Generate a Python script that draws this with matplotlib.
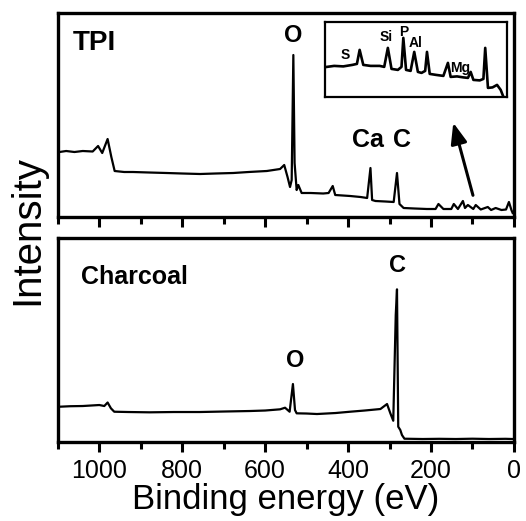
import matplotlib
matplotlib.use('Agg')
import matplotlib.pyplot as plt
from matplotlib.ticker import MultipleLocator

plt.rcParams['font.family'] = ['Liberation Sans', 'DejaVu Sans']

# survey spectra, binding energy (eV) vs intensity (arb. units)
tpi_energy = [1096, 1080, 1060, 1040, 1016, 1003, 993, 980, 971, 963, 940, 919, 880, 838,
              800, 757, 720, 677, 640, 596, 564, 554, 546, 540, 536, 532, 529, 524, 520,
              512, 490, 460, 447, 437, 431, 395, 370, 354, 346, 342, 334, 310, 290, 282,
              276, 266, 240, 210, 189, 182, 170, 151, 145, 135, 123, 118, 111, 98, 92,
              80, 63, 55, 44, 30, 19, 12, 6, 3]
tpi_intensity = [65, 66, 65, 66, 65.5, 71, 64, 78, 60, 46, 45, 45, 44.5, 44,
                 43.5, 43, 43.5, 44, 45, 46, 48, 52, 40, 30, 37, 162, 54, 27, 32,
                 24, 24, 23.5, 24, 31, 22, 21, 20, 19, 49, 17, 16, 15.5, 15, 44,
                 13, 9, 8.5, 8, 8, 13, 8, 8, 13, 8, 16, 9, 12, 8, 12,
                 7.5, 10, 7, 9, 7, 7.5, 15, 7, 4]

char_energy = [1096, 1070, 1040, 1000, 988, 980, 972, 964, 930, 879, 820, 758, 700, 637,
               600, 564, 552, 541, 533, 528, 524, 500, 475, 430, 395, 360, 322, 306, 298,
               291, 285, 282, 279, 274, 270, 264, 220, 180, 140, 100, 60, 20, 3]
char_intensity = [35.3, 35.8, 36, 37, 36, 39.5, 33.7, 30.3, 30, 29.7, 30, 30, 30.5, 31,
                  31.5, 32.7, 34.3, 30.3, 58, 32, 28.7, 28.5, 28, 29, 30.3, 31.5, 33, 38, 28.7,
                  21.3, 127, 152.7, 15.3, 12, 7, 3.3, 3, 3.2, 3, 3.3, 3, 3.2, 3]

# zoomed low-energy region shown in the inset
inset_energy = [198, 190, 180, 170, 165, 162, 158, 150, 140, 135, 131, 127, 120, 116, 114, 111,
                106, 102, 98, 94, 90, 88, 85, 78, 70, 65, 62, 55, 48, 43, 40, 37, 30,
                26, 24, 21, 16, 11, 7, 4]
inset_intensity = [30, 31, 30.5, 32, 33, 47, 32, 31, 31, 30, 49, 28, 27, 30, 59, 27,
                   26, 45, 25, 24, 26, 45, 23, 22, 21, 34, 20, 20.5, 19.5, 19, 25, 17, 16.5,
                   18, 49, 9, 9.5, 12, 7, 0]
inset_labels = ['S', 'Si', 'P', 'Al', 'Mg']
inset_label_pos = [(178, 42), (133, 60), (114, 65), (101, 54), (52, 29)]

fig = plt.figure(figsize=(5.26, 5.21), dpi=100)
ax_top = fig.add_axes([0.110, 0.5835, 0.867, 0.3915])
ax_bot = fig.add_axes([0.110, 0.1516, 0.867, 0.3915])

for ax in (ax_top, ax_bot):
    ax.set_xlim(1100, 0)
    ax.set_ylim(0, 204)
    ax.set_yticks([])
    ax.xaxis.set_major_locator(MultipleLocator(200))
    ax.xaxis.set_minor_locator(MultipleLocator(100))
    ax.tick_params(axis='x', which='major', direction='out', length=7, width=2.2, pad=5,
                   labelsize=18)
    ax.tick_params(axis='x', which='minor', direction='out', length=5, width=2.2)
    for sp in ax.spines.values():
        sp.set_linewidth(2.4)

ax_top.tick_params(axis='x', labelbottom=False)

ax_top.plot(tpi_energy, tpi_intensity, color='black', lw=1.6)
ax_bot.plot(char_energy, char_intensity, color='black', lw=1.6)

# text labels
ax_top.text(1064, 174, 'TPI', fontsize=20, fontweight='bold', ha='left', va='center')
ax_top.text(533, 182, 'O', fontsize=17, fontweight='bold', ha='center', va='center')
ax_top.text(353, 77, 'Ca', fontsize=18, fontweight='bold', ha='center', va='center')
ax_top.text(271, 77, 'C', fontsize=18, fontweight='bold', ha='center', va='center')
ax_top.annotate('', xy=(148, 97), xytext=(97, 19),
                arrowprops=dict(arrowstyle='-|>,head_length=0.9,head_width=0.35',
                                color='black', lw=2.2, mutation_scale=14))

ax_bot.text(1043, 165, 'Charcoal', fontsize=18, fontweight='bold', ha='left', va='center')
ax_bot.text(527, 82, 'O', fontsize=17, fontweight='bold', ha='center', va='center')
ax_bot.text(281, 177, 'C', fontsize=17, fontweight='bold', ha='center', va='center')

ax_bot.set_xlabel('Binding energy (eV)', fontsize=25, labelpad=0)
fig.text(0.052, 0.558, 'Intensity', fontsize=29, rotation=90, ha='center', va='center')

# inset
ax_in = fig.add_axes([0.618, 0.814, 0.346, 0.144])
ax_in.plot(inset_energy, inset_intensity, color='black', lw=1.9)
ax_in.set_xlim(200, 0)
ax_in.set_ylim(0, 75)
ax_in.set_xticks([])
ax_in.set_yticks([])
for sp in ax_in.spines.values():
    sp.set_linewidth(1.6)
for lab, (xx, yy) in zip(inset_labels, inset_label_pos):
    ax_in.text(xx, yy, lab, fontsize=10, fontweight='bold', ha='center', va='center')

fig.savefig('out.png', dpi=100)
